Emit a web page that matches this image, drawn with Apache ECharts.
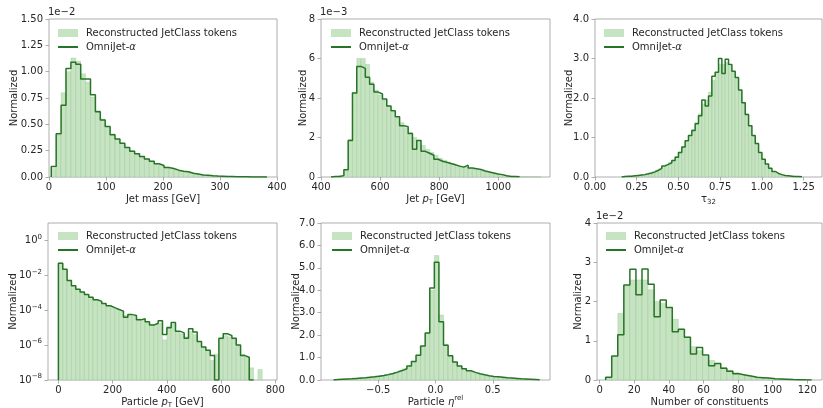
<!DOCTYPE html>
<html>
<head>
<meta charset="utf-8">
<script src="https://cdn.jsdelivr.net/npm/echarts@6/dist/echarts.min.js"></script>
<style>
  html, body { margin: 0; padding: 0; background: #ffffff; }
  #chart { width: 823px; height: 408px; }
</style>
</head>
<body>
<div id="chart"></div>
<script>
// ---------------- data ----------------
// Each histogram: first bin edge, bin width, bin contents (reconstructed tokens / generated).

// Jet mass [GeV], values in units of 1e-2
const jetMassFirstEdge = 4;
const jetMassBinWidth = 8.6;
const jetMassReco = [0.08, 0.40, 0.80, 1.00, 1.13, 1.10, 0.98, 0.90, 0.76, 0.63, 0.55, 0.48, 0.41, 0.36, 0.32, 0.28, 0.25, 0.22, 0.19, 0.17, 0.15, 0.13, 0.11, 0.095, 0.08, 0.068, 0.057, 0.048, 0.038, 0.03, 0.024, 0.019, 0.014, 0.011, 0.008, 0.006, 0.005, 0.004, 0.003, 0.002, 0.0015, 0.001, 0.0007, 0.0005];
const jetMassGen = [0.10, 0.41, 0.68, 1.03, 1.09, 1.07, 0.93, 0.93, 0.78, 0.62, 0.54, 0.48, 0.40, 0.36, 0.32, 0.28, 0.245, 0.22, 0.195, 0.17, 0.15, 0.125, 0.11, 0.09, 0.08, 0.065, 0.055, 0.05, 0.035, 0.028, 0.02, 0.017, 0.012, 0.009, 0.007, 0.005, 0.004, 0.003, 0.002, 0.0015, 0.001, 0.0008, 0.0005, 0.0003];
const jetMassXTicks = [0, 100, 200, 300, 400];
const jetMassYTicks = [0, 0.25, 0.5, 0.75, 1.0, 1.25, 1.5];

// Jet pT [GeV], values in units of 1e-3
const jetPtFirstEdge = 434;
const jetPtBinWidth = 14.5;
const jetPtReco = [0.01, 0.03, 0.08, 0.4, 1.9, 4.3, 6.0, 6.0, 5.7, 4.8, 4.4, 4.15, 3.9, 3.6, 3.3, 3.0, 2.75, 2.5, 2.25, 2.0, 1.8, 1.6, 1.4, 1.25, 1.1, 0.95, 0.85, 0.75, 0.68, 0.6, 0.55, 0.5, 0.45, 0.4, 0.35, 0.3, 0.25, 0.2, 0.16, 0.12, 0.09, 0.06, 0.04, 0.03, 0.02, 0.015, 0.01, 0.006, 0.004];
const jetPtGen = [0.02, 0.03, 0.07, 0.37, 1.85, 4.25, 5.6, 5.5, 5.05, 4.7, 4.3, 4.2, 3.95, 3.6, 3.35, 3.05, 2.6, 2.55, 2.2, 1.4, 1.85, 1.3, 1.2, 1.1, 0.9, 0.8, 0.75, 0.68, 0.62, 0.55, 0.5, 0.6, 0.45, 0.42, 0.38, 0.3, 0.25, 0.2, 0.15, 0.12, 0.06, 0.03, 0.02, 0.01];
const jetPtXTicks = [400, 600, 800, 1000];
const jetPtYTicks = [0, 2, 4, 6, 8];

// tau_32
const tau32FirstEdge = 0.16;
const tau32BinWidth = 0.02;
const tau32Reco = [0.01, 0.015, 0.02, 0.03, 0.035, 0.045, 0.06, 0.08, 0.10, 0.13, 0.17, 0.21, 0.26, 0.31, 0.37, 0.43, 0.52, 0.63, 0.77, 0.92, 1.06, 1.2, 1.38, 1.6, 1.85, 1.95, 2.15, 2.45, 2.65, 2.85, 2.85, 2.9, 2.8, 2.65, 2.5, 2.2, 1.9, 1.6, 1.3, 1.05, 0.83, 0.62, 0.45, 0.32, 0.22, 0.14, 0.09, 0.06, 0.04, 0.03, 0.02, 0.01, 0.01, 0.005];
const tau32Gen = [0.01, 0.02, 0.02, 0.03, 0.04, 0.05, 0.06, 0.08, 0.10, 0.13, 0.17, 0.22, 0.28, 0.32, 0.36, 0.42, 0.50, 0.62, 0.76, 0.92, 1.05, 1.18, 1.35, 1.55, 1.95, 1.80, 2.05, 2.55, 2.65, 3.00, 2.62, 2.98, 2.85, 2.68, 2.52, 2.20, 1.88, 1.58, 1.30, 1.05, 0.85, 0.62, 0.45, 0.33, 0.22, 0.14, 0.09, 0.06, 0.04, 0.03, 0.02, 0.01, 0.01, 0.005];
const tau32XTicks = [0, 0.25, 0.5, 0.75, 1.0, 1.25];
const tau32YTicks = [0, 1, 2, 3, 4];

// Particle pT [GeV], log scale (0 = empty bin)
const partPtFirstEdge = 0;
const partPtBinWidth = 16;
const partPtReco = [5.2e-2, 2.2e-2, 5.2e-3, 2.6e-3, 1.6e-3, 1.12e-3, 7.9e-4, 5.6e-4, 4.0e-4, 3.2e-4, 2.4e-4, 1.8e-4, 1.4e-4, 1.1e-4, 8.5e-5, 5.0e-5, 5.0e-5, 4.5e-5, 3.2e-5, 3.0e-5, 2.2e-5, 1.6e-5, 1.6e-5, 1.8e-5, 2.0e-6, 1.2e-5, 1.6e-5, 6.0e-6, 4.5e-6, 3.0e-6, 6.0e-6, 4.0e-6, 1.6e-6, 8.0e-7, 5.0e-7, 1.3e-7, 3.0e-7, 2.2e-6, 3.5e-6, 3.0e-6, 2.2e-6, 1.0e-6, 3.0e-7, 2.0e-7, 5.0e-8, 0, 4.0e-8];
const partPtGen = [4.9e-2, 2.24e-2, 5.0e-3, 2.5e-3, 1.58e-3, 1.12e-3, 7.9e-4, 5.6e-4, 4.0e-4, 3.2e-4, 2.4e-4, 1.8e-4, 1.4e-4, 1.1e-4, 8.9e-5, 4.0e-5, 5.6e-5, 5.0e-5, 2.8e-5, 3.2e-5, 2.2e-5, 1.4e-5, 1.8e-5, 2.5e-5, 4.0e-6, 1.0e-5, 2.0e-5, 6.3e-6, 5.0e-6, 2.5e-6, 8.7e-6, 5.6e-6, 1.6e-6, 7.9e-7, 5.0e-7, 2.5e-7, 0, 2.5e-6, 4.5e-6, 3.5e-6, 2.5e-6, 1.0e-6, 2.5e-7, 2.0e-7, 0];
const partPtXTicks = [0, 200, 400, 600, 800];
const partPtYTicks = [1e-8, 1e-6, 1e-4, 1e-2, 1];

// Particle eta_rel
const etaFirstEdge = -0.89;
const etaBinWidth = 0.04;
const etaReco = [0.025, 0.035, 0.045, 0.055, 0.07, 0.085, 0.10, 0.12, 0.14, 0.17, 0.2, 0.24, 0.29, 0.35, 0.42, 0.5, 0.63, 0.82, 1.1, 1.5, 2.1, 4.0, 5.55, 2.9, 1.6, 1.1, 0.8, 0.63, 0.5, 0.41, 0.34, 0.28, 0.23, 0.19, 0.16, 0.14, 0.12, 0.10, 0.085, 0.07, 0.055, 0.045, 0.035, 0.025, 0.015];
const etaGen = [0.025, 0.035, 0.045, 0.055, 0.07, 0.085, 0.10, 0.12, 0.14, 0.17, 0.2, 0.24, 0.29, 0.35, 0.42, 0.5, 0.62, 0.82, 1.1, 1.52, 2.09, 4.1, 5.25, 2.6, 1.55, 1.08, 0.8, 0.62, 0.5, 0.41, 0.34, 0.28, 0.23, 0.19, 0.16, 0.14, 0.12, 0.10, 0.085, 0.07, 0.055, 0.045, 0.035, 0.025, 0.015];
const etaXTicks = [-0.5, 0, 0.5];
const etaYTicks = [0, 1, 2, 3, 4, 5, 6, 7];

// Number of constituents, values in units of 1e-2
const nConstFirstEdge = 3.5;
const nConstBinWidth = 3.5;
const nConstReco = [0.05, 0.6, 1.7, 2.4, 2.55, 2.55, 2.55, 2.3, 2.0, 1.95, 1.85, 1.55, 1.3, 1.1, 0.85, 0.75, 0.6, 0.5, 0.4, 0.32, 0.25, 0.19, 0.14, 0.11, 0.08, 0.06, 0.05, 0.035, 0.025, 0.02, 0.012, 0.008, 0.005, 0.003];
const nConstGen = [0.07, 0.61, 1.15, 2.42, 2.82, 2.17, 2.83, 2.44, 1.61, 2.04, 1.85, 1.23, 1.29, 1.09, 0.66, 0.83, 0.64, 0.36, 0.42, 0.30, 0.22, 0.16, 0.13, 0.10, 0.07, 0.06, 0.05, 0.03, 0.025, 0.02, 0.01, 0.008, 0.005, 0.003];
const nConstXTicks = [0, 20, 40, 60, 80, 100, 120];
const nConstYTicks = [0, 1, 2, 3, 4];

const RECO_NAME = 'Reconstructed JetClass tokens';
const GEN_NAME = 'OmniJet-α';

// ---------------- styling ----------------
const FONT = 'DejaVu Sans';
const TEXT = '#262626';
const FRAME = '#9a9a9a';
const FILL = '#c6e4c2';
const FILL_EDGE = 'rgba(110,170,105,0.35)';
const LINE = '#267426';

const richParts = {
  it: { fontFamily: FONT, fontSize: 10, fontStyle: 'italic', color: TEXT },
  sub: { fontFamily: FONT, fontSize: 7, lineHeight: 8, verticalAlign: 'bottom', color: TEXT },
  sup: { fontFamily: FONT, fontSize: 7, lineHeight: 8, verticalAlign: 'top', color: TEXT }
};

const minus = s => s.replace('-', '−');
const fmtFixed = d => v => minus(v.toFixed(d));
const fmtLog = v => {
  const e = Math.round(Math.log10(v));
  return '10{sup|' + minus(String(e)) + '}';
};

// ---------------- helpers ----------------
function binRows(first, width, values, floor) {
  const rows = [];
  values.forEach((v, i) => {
    if (v > 0) rows.push([first + i * width, first + (i + 1) * width, v, floor]);
  });
  return rows;
}

function stepPoints(first, width, values, floor) {
  const pts = [[first, floor]];
  values.forEach((v, i) => {
    const y = v > 0 ? v : floor;
    pts.push([first + i * width, y], [first + (i + 1) * width, y]);
  });
  pts.push([first + values.length * width, floor]);
  return pts;
}

function renderBin(params, api) {
  const top = api.coord([api.value(0), api.value(2)]);
  const bottom = api.coord([api.value(1), api.value(3)]);
  const cs = params.coordSys;
  const shape = echarts.graphic.clipRectByRect(
    { x: top[0], y: top[1], width: bottom[0] - top[0], height: bottom[1] - top[1] },
    { x: cs.x, y: cs.y, width: cs.width, height: cs.height }
  );
  return shape && {
    type: 'rect',
    shape: shape,
    style: { fill: FILL, stroke: FILL_EDGE, lineWidth: 0.6 }
  };
}

// ---------------- panels ----------------
const panels = [
  { box: [49, 19, 228, 158], first: jetMassFirstEdge, width: jetMassBinWidth, reco: jetMassReco, gen: jetMassGen,
    x: { min: 0, max: 400, ticks: jetMassXTicks, fmt: v => String(v), name: 'Jet mass [GeV]' },
    y: { min: 0, max: 1.5, ticks: jetMassYTicks, fmt: fmtFixed(2), gap: 30 },
    offset: '1e−2', legend: [57, 27] },
  { box: [321, 19, 229, 158], first: jetPtFirstEdge, width: jetPtBinWidth, reco: jetPtReco, gen: jetPtGen,
    x: { min: 400, max: 1175, ticks: jetPtXTicks, fmt: v => String(v), name: 'Jet {it|p}{sub|T} [GeV]' },
    y: { min: 0, max: 8, ticks: jetPtYTicks, fmt: v => String(v), gap: 13 },
    offset: '1e−3', legend: [330, 27] },
  { box: [595, 19, 227, 158], first: tau32FirstEdge, width: tau32BinWidth, reco: tau32Reco, gen: tau32Gen,
    x: { min: 0, max: 1.36, ticks: tau32XTicks, fmt: fmtFixed(2), name: 'τ{sub|32}' },
    y: { min: 0, max: 4, ticks: tau32YTicks, fmt: fmtFixed(1), gap: 21 },
    offset: null, legend: [603, 27] },
  { box: [48, 223, 229, 157], first: partPtFirstEdge, width: partPtBinWidth, reco: partPtReco, gen: partPtGen,
    x: { min: -38.4, max: 806.4, ticks: partPtXTicks, fmt: v => String(v), name: 'Particle {it|p}{sub|T} [GeV]' },
    y: { log: true, min: 1e-8, max: 10, ticks: partPtYTicks, fmt: fmtLog, gap: 30 },
    offset: null, legend: [57, 230] },
  { box: [321, 223, 229, 157], first: etaFirstEdge, width: etaBinWidth, reco: etaReco, gen: etaGen,
    x: { min: -1, max: 1, ticks: etaXTicks, fmt: fmtFixed(1), name: 'Particle {it|η}{sup|rel}' },
    y: { min: 0, max: 7, ticks: etaYTicks, fmt: fmtFixed(1), gap: 20 },
    offset: null, legend: [331, 230] },
  { box: [597, 223, 225, 157], first: nConstFirstEdge, width: nConstBinWidth, reco: nConstReco, gen: nConstGen,
    x: { min: -1.5, max: 128.5, ticks: nConstXTicks, fmt: v => String(v), name: 'Number of constituents' },
    y: { min: 0, max: 4, ticks: nConstYTicks, fmt: v => String(v), gap: 14 },
    offset: '1e−2', legend: [605, 230] }
];

const labelStyle = { fontFamily: FONT, fontSize: 10, color: TEXT };
const tickStyle = { show: true, inside: false, length: 3.5, lineStyle: { color: FRAME, width: 0.8 } };

const option = {
  animation: false,
  backgroundColor: '#ffffff',
  title: [],
  legend: [],
  grid: [],
  xAxis: [],
  yAxis: [],
  series: []
};

panels.forEach((p, i) => {
  const floor = p.y.log ? p.y.min : 0;
  option.grid.push({
    left: p.box[0], top: p.box[1], width: p.box[2], height: p.box[3],
    show: true, borderColor: FRAME, borderWidth: 0.8, backgroundColor: 'transparent',
    containLabel: false, outerBoundsMode: 'none'
  });
  option.xAxis.push({
    type: 'value', gridIndex: i, min: p.x.min, max: p.x.max, position: 'bottom',
    axisLine: { show: false, onZero: false }, splitLine: { show: false },
    axisTick: Object.assign({ customValues: p.x.ticks }, tickStyle),
    axisLabel: Object.assign({ customValues: p.x.ticks, formatter: p.x.fmt, margin: 5, hideOverlap: false }, labelStyle),
    name: p.x.name, nameLocation: 'middle', nameGap: 15, nameMoveOverlap: false,
    nameTextStyle: Object.assign({ lineHeight: 14, rich: richParts }, labelStyle)
  });
  option.yAxis.push({
    type: p.y.log ? 'log' : 'value', logBase: 10, gridIndex: i, min: p.y.min, max: p.y.max, position: 'left',
    axisLine: { show: false, onZero: false }, splitLine: { show: false },
    axisTick: Object.assign({ customValues: p.y.ticks }, tickStyle),
    axisLabel: Object.assign({ customValues: p.y.ticks, formatter: p.y.fmt, margin: 6, hideOverlap: false,
      lineHeight: 14, rich: richParts }, labelStyle),
    name: 'Normalized', nameLocation: 'middle', nameRotate: 90, nameGap: p.y.gap, nameMoveOverlap: false,
    nameTextStyle: labelStyle
  });
  if (p.offset) {
    option.title.push({
      text: p.offset, left: p.box[0] - 1, top: p.box[1] - 12, padding: 0,
      textStyle: { fontFamily: FONT, fontSize: 10, fontWeight: 'normal', color: TEXT }
    });
  }
  option.legend.push({
    orient: 'vertical', left: p.legend[0], top: p.legend[1], padding: 0,
    itemWidth: 20, itemHeight: 8, itemGap: 2, selectedMode: false,
    data: [
      { name: RECO_NAME, icon: 'rect' },
      { name: GEN_NAME, itemStyle: { opacity: 0 } }
    ],
    formatter: n => (n === GEN_NAME ? '{pad| }OmniJet-{it|α}' : '{pad| }' + n),
    textStyle: { fontFamily: FONT, fontSize: 10, color: TEXT, lineHeight: 12,
      rich: {
        pad: { width: 3, fontSize: 10, fontFamily: FONT },
        it: { fontFamily: FONT, fontSize: 10, fontStyle: 'italic', color: TEXT }
      } }
  });
  option.series.push({
    name: RECO_NAME, type: 'custom', xAxisIndex: i, yAxisIndex: i,
    renderItem: renderBin, encode: { x: [0, 1], y: [2, 3] },
    itemStyle: { color: FILL }, z: 2,
    data: binRows(p.first, p.width, p.reco, floor)
  });
  option.series.push({
    name: GEN_NAME, type: 'line', xAxisIndex: i, yAxisIndex: i,
    symbol: 'none', showSymbol: false, clip: true, z: 3,
    lineStyle: { color: LINE, width: 1.5 }, itemStyle: { color: LINE },
    data: stepPoints(p.first, p.width, p.gen, floor)
  });
});

const chart = echarts.init(document.getElementById('chart'), null, { renderer: 'canvas' });
chart.setOption(option);
</script>
</body>
</html>
